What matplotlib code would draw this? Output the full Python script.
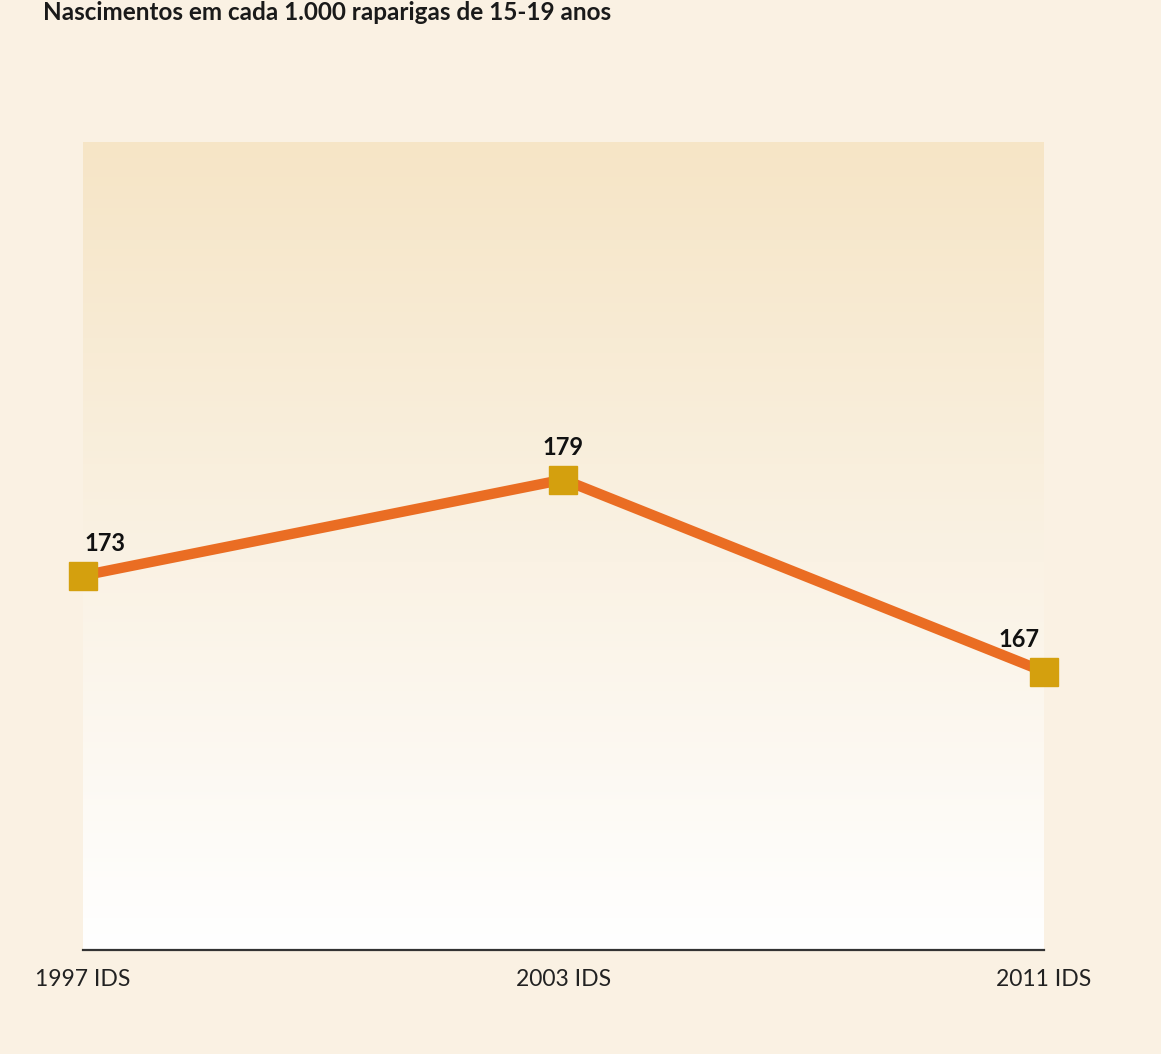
import numpy as np
import matplotlib
matplotlib.use("Agg")
import matplotlib.pyplot as plt
from matplotlib.colors import LinearSegmentedColormap

# data
surveys = ["1997 IDS", "2003 IDS", "2011 IDS"]
births = [173, 179, 167]
label_dx = [22, 0, -25]  # label offsets in px

bg = "#faf1e3"
plt.rcParams["font.family"] = ["Lato", "DejaVu Sans"]

fig = plt.figure(figsize=(11.61, 10.54), dpi=100, facecolor=bg)
ax = fig.add_axes([0.0715, 0.0987, 0.8277, 0.7666])
ax.set_facecolor(bg)

x = np.arange(len(surveys))
ax.set_xlim(0, len(surveys) - 1)
ax.set_ylim(149.6, 200.1)

# vertical gradient behind the line
cmap = LinearSegmentedColormap.from_list(
    "bg", [(0, "#ffffff"), (0.48, "#faf2e4"), (1, "#f6e5c6")])
grad = np.linspace(0, 1, 256).reshape(-1, 1)
ax.imshow(grad, cmap=cmap, aspect="auto", origin="lower",
          extent=[-0.003, 2.004, 149.6, 200.1], zorder=0)

ax.plot(x, births, color="#ea6d23", lw=7.5, zorder=2, solid_capstyle="butt")
ax.plot(x, births, ls="none", marker="s", ms=20, color="#d4a00e",
        mec="#d4a00e", zorder=3, clip_on=False)

for xi, v, dx in zip(x, births, label_dx):
    ax.annotate(str(v), (xi, v), xytext=(dx * 0.72, 23), textcoords="offset points",
                ha="center", va="center", fontsize=17, fontweight="bold",
                color="#111111")

for s in ["top", "right", "left"]:
    ax.spines[s].set_visible(False)
ax.spines["bottom"].set_color("#333333")
ax.spines["bottom"].set_linewidth(1.6)
ax.set_yticks([])
ax.set_xticks(x)
ax.set_xticklabels(surveys, fontsize=16.5, color="#222222")
ax.tick_params(axis="x", length=0, pad=14)

fig.text(43 / 1161, 1 - 13 / 1054, "Nascimentos em cada 1.000 raparigas de 15-19 anos",
         ha="left", va="center", fontsize=17.5, fontweight="bold", color="#1a1a1a")

fig.savefig("out.png", dpi=100, facecolor=bg)
